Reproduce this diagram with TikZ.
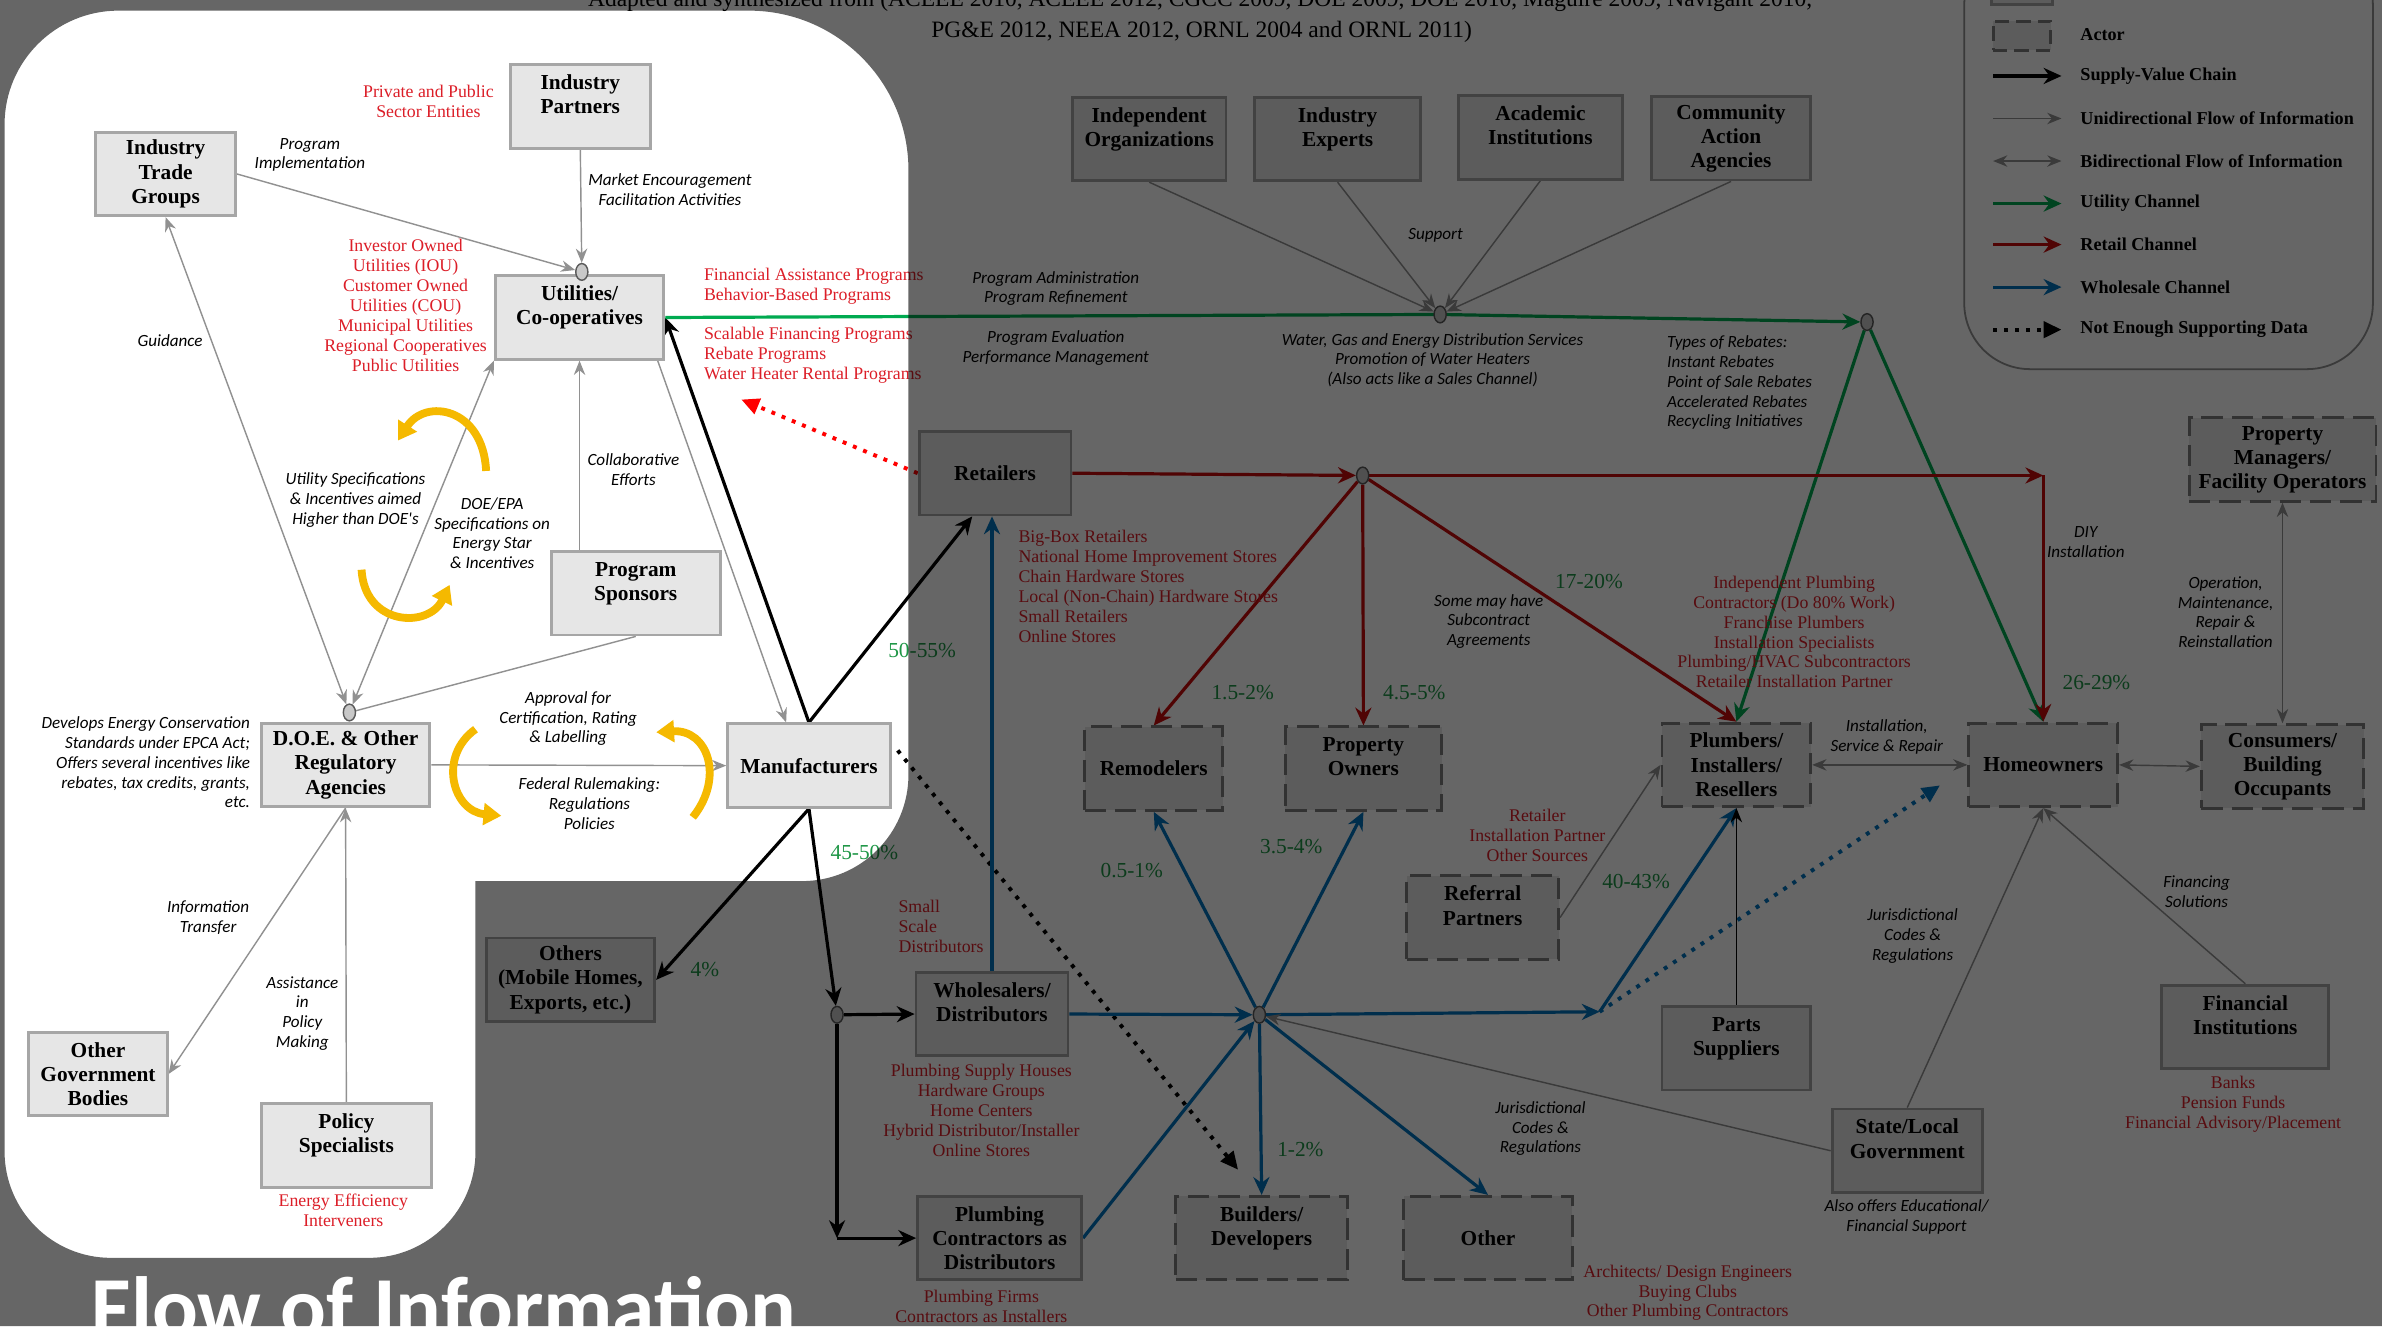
\documentclass[tikz,border=0pt]{standalone}
\usepackage{fontspec}
\setmainfont{Liberation Serif}
\newfontfamily\calfont{Carlito}
\usetikzlibrary{arrows.meta,shapes.geometric,calc}

\definecolor{boxfill}  {RGB}{230,230,230}
\definecolor{boxline}  {RGB}{166,166,166}
\definecolor{actorline}{RGB}{125,125,125}
\definecolor{infogray} {RGB}{145,145,145}
\definecolor{jfill}    {RGB}{200,200,200}
\definecolor{jline}    {RGB}{90,90,90}
\definecolor{txtred}   {RGB}{220,30,40}
\definecolor{pctgreen} {RGB}{30,150,70}
\definecolor{utilgreen}{RGB}{0,170,80}
\definecolor{retred}   {RGB}{200,10,10}
\definecolor{wholeblue}{RGB}{0,115,190}
\definecolor{curlgold} {RGB}{245,185,0}
\definecolor{dotred}   {RGB}{255,0,0}

\newcommand{\pxu}{0.15mm}
\newcommand{\boxfont}{\bfseries\fontsize{6}{6.8}\selectfont}
\newcommand{\notefont}{\calfont\itshape\fontsize{4.8}{5.55}\selectfont}
\newcommand{\redfont}{\fontsize{5}{5.6}\selectfont}
\newcommand{\pctfont}{\fontsize{6}{7}\selectfont}
\newcommand{\keyfont}{\bfseries\fontsize{5.1}{5.8}\selectfont}
\newcommand{\srcfont}{\fontsize{6.6}{8}\selectfont}
\newcommand{\titlefont}{\calfont\bfseries\fontsize{24}{28}\selectfont}

\pgfdeclarelayer{back}
\pgfdeclarelayer{edges}
\pgfdeclarelayer{front}
\pgfsetlayers{back,edges,main,front}

\tikzset{
  box/.style={draw=boxline, fill=boxfill, line width=0.8pt, align=center,
    font=\boxfont, minimum height=55*\pxu, inner sep=1pt},
  actor/.style={box, draw=actorline, dash pattern=on 6pt off 2.5pt},
  junc/.style={ellipse, draw=jline, fill=jfill, line width=0.4pt,
    minimum width=8*\pxu, minimum height=11*\pxu, inner sep=0pt},
  info/.style={draw=infogray, line width=0.4pt, -{Stealth[length=4pt,width=3.2pt]}},
  infoboth/.style={info, {Stealth[length=4pt,width=3.2pt]}-{Stealth[length=4pt,width=3.2pt]}},
  infoline/.style={draw=infogray, line width=0.4pt},
  supply/.style={draw=black, line width=0.9pt, -{Stealth[length=5pt,width=4.5pt]}},
  utilch/.style={supply, draw=utilgreen},
  retch/.style={supply, draw=retred},
  wholech/.style={supply, draw=wholeblue},
  nodata/.style={draw=black, line width=1.1pt, dotted, -{Triangle[length=5pt,width=4.5pt]}},
  ycurl/.style={draw=curlgold, line width=2.2pt, -{Triangle[length=5pt,width=6pt]}},
  note/.style={font=\notefont, align=center, inner sep=0pt},
  redtxt/.style={font=\redfont, text=txtred, align=center, inner sep=0pt},
  pct/.style={font=\pctfont, text=pctgreen, inner sep=0pt},
  keytxt/.style={font=\keyfont, anchor=west, inner sep=0pt}
}

\begin{document}
\begin{tikzpicture}[x=0.15mm, y=-0.15mm]
  \useasboundingbox (0,0) rectangle (1568,873);
  \begin{pgfonlayer}{back}
    \fill[white] (0,0) rectangle (1568,873);
  \end{pgfonlayer}

  % sources line
  \node[anchor=base, font=\srcfont] (src1) at (790,4) {Adapted and synthesized from (ACEEE 2010, ACEEE 2012, CGCC 2009, DOE 2009, DOE 2010, Maguire 2009, Navigant 2010,};
  \node[anchor=base, font=\srcfont] (src2) at (791,25) {PG\&E 2012, NEEA 2012, ORNL 2004 and ORNL 2011)};

  % policy side
  \node[box, minimum width=92*\pxu]  (ip)   at (382,70)     {Industry\\Partners\\\mbox{}};
  \node[box, minimum width=92*\pxu]  (itg)  at (109,114.5)  {Industry\\Trade\\Groups};
  \node[box, minimum width=111*\pxu] (util) at (381.5,209)  {Utilities/\\Co-operatives\\\mbox{}};
  \node[box, minimum width=111*\pxu] (ps)   at (418.5,390.5){Program\\Sponsors\\\mbox{}};
  \node[box, minimum width=111*\pxu] (doe)  at (227.5,503.5){D.O.E. \& Other\\Regulatory\\Agencies};
  \node[box, minimum width=107*\pxu] (manu) at (532.5,504)  {Manufacturers};
  \node[box, minimum width=91*\pxu]  (ogb)  at (64.5,707)   {Other\\Government\\Bodies};
  \node[box, minimum width=112*\pxu] (pols) at (228,754)    {Policy\\Specialists\\\mbox{}};

  % market side
  \node[box, minimum width=100*\pxu] (ret)   at (655,311.5)  {Retailers};
  \node[box, minimum width=111*\pxu] (oth)   at (375.5,645)  {Others\\(Mobile Homes,\\Exports, etc.)};
  \node[box, minimum width=100*\pxu] (wd)    at (653,667.5)  {Wholesalers/\\Distributors\\\mbox{}};
  \node[box, minimum width=108*\pxu] (pcd)   at (658,815)    {Plumbing\\Contractors as\\Distributors};
  \node[box, minimum width=101*\pxu] (io)    at (756.5,91.5) {Independent\\Organizations\\\mbox{}};
  \node[box, minimum width=109*\pxu] (ie)    at (880.5,91.5) {Industry\\Experts\\\mbox{}};
  \node[box, minimum width=108*\pxu] (ai)    at (1014,90.5)  {Academic\\Institutions\\\mbox{}};
  \node[box, minimum width=105*\pxu] (caa)   at (1139.5,91)  {Community\\Action\\Agencies};
  \node[box, minimum width=98*\pxu]  (parts) at (1143,690)   {Parts\\Suppliers\\\mbox{}};
  \node[box, minimum width=99*\pxu]  (slg)   at (1255.5,757.5){State/Local\\Government\\\mbox{}};
  \node[box, minimum width=110*\pxu] (fi)    at (1478,676)   {Financial\\Institutions\\\mbox{}};

  % actors
  \node[actor, minimum width=91*\pxu]  (rem)  at (759.5,506)  {Remodelers};
  \node[actor, minimum width=103*\pxu] (po)   at (897.5,506)  {Property\\Owners\\\mbox{}};
  \node[actor, minimum width=100*\pxu] (ref)  at (976,604)    {Referral\\Partners\\\mbox{}};
  \node[actor, minimum width=98*\pxu]  (pir)  at (1143,503.5) {Plumbers/\\Installers/\\Resellers};
  \node[actor, minimum width=98*\pxu]  (home) at (1345,503.5) {Homeowners};
  \node[actor, minimum width=107*\pxu] (cbo)  at (1502.5,504.5){Consumers/\\Building\\Occupants};
  \node[actor, minimum width=123*\pxu] (pmfo) at (1502.5,302.5){Property\\Managers/\\Facility Operators};
  \node[actor, minimum width=113*\pxu] (bd)   at (830.5,815)  {Builders/\\Developers\\\mbox{}};
  \node[actor, minimum width=111*\pxu] (misc) at (979.5,815)  {Other};

  % junctions
  \node[junc] (uj) at (383,179) {};
  \node[junc] (dj) at (230,469) {};
  \node[junc] (sj) at (948,207) {};
  \node[junc] (gj) at (1229,212) {};
  \node[junc] (rj) at (897,313) {};
  \node[junc] (wj) at (829,668) {};
  \node[junc] (bj) at (551,668) {};
  \coordinate (rc)   at (1345,313);
  \coordinate (bc)   at (551,815);
  \coordinate (bn)   at (1053,666);
  \coordinate (rdot) at (488,263);
  \coordinate (bdot) at (1277,517);
  \coordinate (kdot) at (815,770);

  \begin{pgfonlayer}{edges}
    % information flow, policy side
    \draw[info] (itg.east) -- (uj);
    \draw[info] (ip.south) -- (uj);
    \draw[infoboth] (itg.south) -- (dj);
    \draw[infoboth] (util.south west) -- (dj);
    \draw[infoline] (ps.south) -- (dj);
    \draw[info] (ps.north west -| util.south) -- (util.south);
    \draw[info] ($(util.south east)+(-5,0)$) -- ($(manu.north)+(-15,0)$);
    \draw[info] (doe.east) -- (manu.west);
    \draw[info] (pols.north) -- (doe.south);
    \draw[info] (doe.south) -- (ogb.east);

    % supply-value chain
    \draw[supply] (manu.north) -- (util.east);
    \draw[supply] (manu.north) -- ($(ret.south)+(-15,0)$);
    \draw[supply] (manu.south) -- (oth.east);
    \draw[supply] (manu.south) -- (bj);
    \draw[supply] (bj) -- (wd.west);
    \draw[supply] (bj) -- (bc);
    \draw[supply] (bc) -- (pcd.west);
    \draw[nodata] ($(manu.east)+(4,-10)$) -- (kdot);
    \draw[nodata, draw=dotred] (ret.west) -- (rdot);

    % utility channel
    \draw[utilch] (util.east) -- (sj.center) -- (gj);
    \draw[utilch] (gj) -- (pir.north);
    \draw[utilch] (gj) -- (home.north);
    \foreach \s in {io,ie,ai,caa}
      \draw[info] (\s.south) -- (sj);

    % retail channel
    \draw[retch] (ret.east) -- (rj);
    \draw[retch] (rj) -- (rc);
    \draw[retch] (rc) -- (home.north);
    \draw[retch] (rj) -- (rem.north);
    \draw[retch] (rj) -- (po.north);
    \draw[retch] (rj) -- (pir.north);

    % wholesale channel
    \draw[wholech] (wd.north) -- (wd.north |- ret.south);
    \draw[wholech] (wd.east) -- (wj);
    \draw[wholech] (pcd.east) -- (wj);
    \draw[wholech] (wj) -- (rem.south);
    \draw[wholech] (wj) -- (po.south);
    \draw[wholech] (wj) -- (bn);
    \draw[wholech] (bn) -- (pir.south);
    \draw[nodata, draw=wholeblue] (bn) -- (bdot);
    \draw[wholech] (wj) -- (bd.north);
    \draw[wholech] (wj) -- (misc.north);

    % information flow, market side
    \draw[info] (slg.west) -- (wj);
    \draw[info] (slg.north) -- (home.south);
    \draw[info] (fi.north) -- (home.south);
    \draw[infoboth] (pir.east) -- (home.west);
    \draw[infoboth] (home.east) -- (cbo.west);
    \draw[infoboth] (cbo.north) -- (pmfo.south);
    \draw[info, draw=black] (parts.north) -- (pir.south);
    \draw[info] (ref.east) -- (pir.west);
  \end{pgfonlayer}

  % feedback curls
  \draw[ycurl] (320,310) .. controls (318,268) and (280,262) .. (262,290);
  \draw[ycurl] (238,375) .. controls (240,412) and (282,414) .. (296,385);
  \draw[ycurl] (313,480) .. controls (288,498) and (298,534) .. (330,537);
  \draw[ycurl] (456,538) .. controls (477,512) and (466,480) .. (432,482);

  % labels, policy side
  \node[redtxt] (pse) at (282,67) {Private and Public\\Sector Entities};
  \node[note] (pimp) at (204,102) {Program\\Implementation};
  \node[note] (mefa) at (441,125) {Market Encouragement\\Facilitation Activities};
  \node[redtxt] (utyp) at (267,201) {Investor Owned\\Utilities (IOU)\\Customer Owned\\Utilities (COU)\\Municipal Utilities\\Regional Cooperatives\\Public Utilities};
  \node[note] (guid) at (112,224) {Guidance};
  \node[note] (uspec) at (234,329) {Utility Specifications\\\& Incentives aimed\\Higher than DOE's};
  \node[note] (espec) at (324,351) {DOE/EPA\\Specifications on\\Energy Star\\\& Incentives};
  \node[note] (coll) at (417,309) {Collaborative\\Efforts};
  \node[note, align=right, anchor=east] (epca) at (165,502) {Develops Energy Conservation\\Standards under EPCA Act;\\Offers several incentives like\\rebates, tax credits, grants,\\etc.};
  \node[note] (appr) at (374,473) {Approval for\\Certification, Rating\\\& Labelling};
  \node[note] (fedr) at (388,529) {Federal Rulemaking:\\Regulations\\Policies};
  \node[note] (itr) at (137,604) {Information\\Transfer};
  \node[note] (apm) at (199,667) {Assistance\\in\\Policy\\Making};
  \node[redtxt] (eei) at (226,797) {Energy Efficiency\\Interveners};

  % labels, utility channel
  \node[redtxt, align=left, anchor=west] (fap) at (463,188.5) {Financial Assistance Programs\\Behavior-Based Programs};
  \node[redtxt, align=left, anchor=west] (sfp) at (463,234) {Scalable Financing Programs\\Rebate Programs\\Water Heater Rental Programs};
  \node[note] (padm) at (695,190) {Program Administration\\Program Refinement};
  \node[note] (peval) at (695,229) {Program Evaluation\\Performance Management};
  \node[note] (supp) at (945,155) {Support};
  \node[note] (wged) at (943,237) {Water, Gas and Energy Distribution Services\\Promotion of Water Heaters\\(Also acts like a Sales Channel)};
  \node[note, align=left, anchor=west] (rebt) at (1097,252) {Types of Rebates:\\Instant Rebates\\Point of Sale Rebates\\Accelerated Rebates\\Recycling Initiatives};

  % labels, retail and wholesale channels
  \node[redtxt, align=left, anchor=west] (rtyp) at (670,386) {Big-Box Retailers\\National Home Improvement Stores\\Chain Hardware Stores\\Local (Non-Chain) Hardware Stores\\Small Retailers\\Online Stores};
  \node[note] (subc) at (980,409) {Some may have\\Subcontract\\Agreements};
  \node[redtxt] (ptyp) at (1181,416) {Independent Plumbing\\Contractors (Do 80\% Work)\\Franchise Plumbers\\Installation Specialists\\Plumbing/HVAC Subcontractors\\Retailer Installation Partner};
  \node[note] (diy) at (1373,357) {DIY\\Installation};
  \node[note] (omr) at (1465,403) {Operation,\\Maintenance,\\Repair \&\\Reinstallation};
  \node[note] (isr) at (1242,485) {Installation,\\Service \& Repair};
  \node[redtxt] (rfs) at (1012,550) {Retailer\\Installation Partner\\Other Sources};
  \node[redtxt, align=left, anchor=west] (ssd) at (591,610) {Small\\Scale\\Distributors};
  \node[redtxt] (wtyp) at (646,731) {Plumbing Supply Houses\\Hardware Groups\\Home Centers\\Hybrid Distributor/Installer\\Online Stores};
  \node[redtxt] (pfc) at (646,860) {Plumbing Firms\\Contractors as Installers};
  \node[note] (jcr1) at (1014,743) {Jurisdictional\\Codes \&\\Regulations};
  \node[note] (jcr2) at (1259,616) {Jurisdictional\\Codes \&\\Regulations};
  \node[note] (fsol) at (1446,587) {Financing\\Solutions};
  \node[note] (aoe) at (1255,801) {Also offers Educational/\\Financial Support};
  \node[redtxt] (btyp) at (1470,727) {Banks\\Pension Funds\\Financial Advisory/Placement};
  \node[redtxt] (otyp) at (1111,851) {Architects/ Design Engineers\\Buying Clubs\\Other Plumbing Contractors};

  % shares
  \node[pct] (p1) at (607,428) {50-55\%};
  \node[pct] (p2) at (569,561) {45-50\%};
  \node[pct] (p3) at (464,638) {4\%};
  \node[pct] (p4) at (818,456) {1.5-2\%};
  \node[pct] (p5) at (931,456) {4.5-5\%};
  \node[pct] (p6) at (1046,383) {17-20\%};
  \node[pct] (p7) at (1380,449) {26-29\%};
  \node[pct] (p8) at (745,573) {0.5-1\%};
  \node[pct] (p9) at (850,557) {3.5-4\%};
  \node[pct] (p10) at (1077,580) {40-43\%};
  \node[pct] (p11) at (856,757) {1-2\%};

  % legend
  \draw[draw=infogray, line width=0.5pt, rounded corners=6.5mm] (1293,-40) rectangle (1562,243);
  \node[box, minimum width=40*\pxu, minimum height=20*\pxu] (kent) at (1331,-7) {};
  \node[actor, minimum width=38*\pxu, minimum height=19*\pxu, dash pattern=on 4pt off 2pt] (kact) at (1331,23.5) {};
  \node[keytxt] (kacttxt) at (1369,23) {Actor};
  \foreach \y/\sty/\txt in {50/supply/Supply-Value  Chain,
      78/info/Unidirectional  Flow of Information,
      106/infoboth/Bidirectional  Flow of Information,
      134/utilch/Utility  Channel,
      161/retch/Retail  Channel,
      189/wholech/Wholesale  Channel,
      217/nodata/Not Enough Supporting Data} {
    \draw[\sty] (1312,\y) -- (1357,\y);
    \node[keytxt] (key\y) at (1369,\y) {\txt};
  }

  % dimming mask and title
  \begin{pgfonlayer}{front}
    \fill[black, opacity=0.6, even odd rule] (0,0) rectangle (1568,873)
      (3,82) arc[start angle=180, end angle=270, radius=75] -- (493,7)
      arc[start angle=270, end angle=360, radius=105] -- (598,510)
      arc[start angle=0, end angle=90, radius=70] -- (313,580) -- (313,758)
      arc[start angle=0, end angle=90, radius=70] -- (73,828)
      arc[start angle=90, end angle=180, radius=70] -- cycle;
    \node[anchor=base west, text=white, font=\titlefont, inner sep=0pt] (foi) at (60,880) {Flow of Information};
  \end{pgfonlayer}
\end{tikzpicture}
\end{document}
